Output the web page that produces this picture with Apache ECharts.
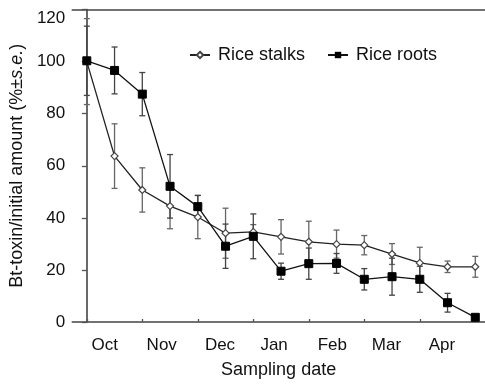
<!DOCTYPE html>
<html>
<head>
<meta charset="utf-8">
<script src="https://cdn.jsdelivr.net/npm/echarts@6/dist/echarts.min.js"></script>
<style>
  html, body { margin: 0; padding: 0; background: #fff; }
  #chart { width: 485px; height: 384px; }
</style>
</head>
<body>
<div id="chart"></div>
<script>
// sampling points (index along the x axis), 15 samples
var samples = [0, 1, 2, 3, 4, 5, 6, 7, 8, 9, 10, 11, 12, 13, 14];

// Bt-toxin remaining, % of initial amount
var stalks = [100, 63.7, 50.7, 44.5, 40.3, 34.1, 34.6, 32.7, 30.8, 29.9, 29.5, 26.1, 22.7, 21.2, 21.2];
var stalksErr = [16.5, 12.4, 8.5, 8.7, 8.3, 9.6, 2.8, 6.6, 7.9, 5.4, 3.7, 4.0, 6.0, 2.2, 4.0];
var roots = [100.3, 96.6, 87.5, 52.1, 44.3, 29.1, 32.9, 19.5, 22.4, 22.5, 16.4, 17.4, 16.4, 7.4, 1.8];
var rootsErr = [13.3, 9.0, 8.3, 12.2, 4.3, 8.5, 8.6, 3.1, 6.0, 3.8, 4.1, 7.1, 5.0, 3.6, 0.5];

// month labels and where they sit along the sample index axis
var months = ['Oct', 'Nov', 'Dec', 'Jan', 'Feb', 'Mar', 'Apr'];
var monthPos = [0.65, 2.7, 4.8, 6.75, 8.85, 10.8, 12.8];
var monthTicks = [0, 2, 4, 6, 8, 10, 12, 14];

function pairs(vals) {
    return samples.map(function (s, i) { return [s, vals[i]]; });
}
function bars(vals, errs) {
    return samples.map(function (s, i) { return [s, vals[i] - errs[i], vals[i] + errs[i]]; });
}

function errorBar(color) {
    return function (params, api) {
        var x = api.value(0);
        var lo = api.coord([x, api.value(1)]);
        var hi = api.coord([x, api.value(2)]);
        var w = 3;
        var st = { stroke: color, lineWidth: 1.3 };
        return {
            type: 'group',
            children: [
                { type: 'line', shape: { x1: lo[0], y1: lo[1], x2: hi[0], y2: hi[1] }, style: st },
                { type: 'line', shape: { x1: lo[0] - w, y1: lo[1], x2: lo[0] + w, y2: lo[1] }, style: st },
                { type: 'line', shape: { x1: hi[0] - w, y1: hi[1], x2: hi[0] + w, y2: hi[1] }, style: st }
            ]
        };
    };
}

var font = 'Liberation Sans, Arial, sans-serif';

var option = {
    animation: false,
    grid: { left: 68, right: 0, top: 9.5, bottom: 61.5 },
    legend: {
        left: 184,
        top: 41,
        itemWidth: 20,
        itemHeight: 8,
        itemGap: 22,
        textStyle: { fontFamily: font, fontSize: 18, color: '#111', padding: [0, 0, 0, 3] },
        data: ['Rice stalks', 'Rice roots']
    },
    xAxis: [{
        type: 'value',
        min: -0.524,
        max: 14.35,
        name: 'Sampling date',
        nameLocation: 'middle',
        nameGap: 39,
        nameTextStyle: { fontFamily: font, fontSize: 18, color: '#111' },
        axisLine: { lineStyle: { color: '#444', width: 1.6 } },
        axisTick: { inside: true, length: 3, customValues: monthTicks, lineStyle: { color: '#555', width: 1.3 } },
        axisLabel: {
            customValues: monthPos,
            margin: 15,
            fontFamily: font, fontSize: 17, color: '#111',
            formatter: function (v) {
                for (var i = 0; i < monthPos.length; i++) {
                    if (Math.abs(monthPos[i] - v) < 1e-6) return months[i];
                }
                return '';
            }
        },
        splitLine: { show: false }
    }, {
        type: 'value',
        position: 'top',
        min: -0.524,
        max: 14.35,
        axisLine: { show: true, lineStyle: { color: '#444', width: 1.6 } },
        axisTick: { show: false },
        axisLabel: { show: false },
        splitLine: { show: false }
    }],
    yAxis: {
        type: 'value',
        min: 0,
        max: 120,
        interval: 20,
        name: 'Bt-toxin/initial amount (%±{i|s.e.})',
        nameLocation: 'middle',
        nameGap: 41,
        nameTextStyle: {
            fontFamily: font, fontSize: 18, color: '#111',
            rich: { i: { fontFamily: font, fontSize: 18, fontStyle: 'italic', color: '#111' } }
        },
        axisLine: { show: true, lineStyle: { color: '#444', width: 1.6 } },
        axisTick: { show: true, length: 5, lineStyle: { color: '#555', width: 1.3 } },
        axisLabel: { margin: 7, fontFamily: font, fontSize: 17, color: '#111', verticalAlignMaxLabel: 'top' },
        splitLine: { show: false }
    },
    series: [{
        name: 'stalks err',
        type: 'custom',
        renderItem: errorBar('#666'),
        encode: { x: 0, y: [1, 2] },
        data: bars(stalks, stalksErr),
        z: 1
    }, {
        name: 'roots err',
        type: 'custom',
        renderItem: errorBar('#444'),
        encode: { x: 0, y: [1, 2] },
        data: bars(roots, rootsErr),
        z: 1
    }, {
        name: 'Rice stalks',
        type: 'line',
        data: pairs(stalks),
        symbol: 'diamond',
        symbolSize: 7,
        lineStyle: { color: '#222', width: 1.3 },
        itemStyle: { color: '#fff', borderColor: '#444', borderWidth: 1.2 },
        z: 3
    }, {
        name: 'Rice roots',
        type: 'line',
        data: pairs(roots),
        symbol: 'rect',
        symbolSize: 8,
        lineStyle: { color: '#111', width: 1.3 },
        itemStyle: { color: '#000', borderColor: '#000' },
        z: 4
    }]
};

var chart = echarts.init(document.getElementById('chart'));
chart.setOption(option);
</script>
</body>
</html>
